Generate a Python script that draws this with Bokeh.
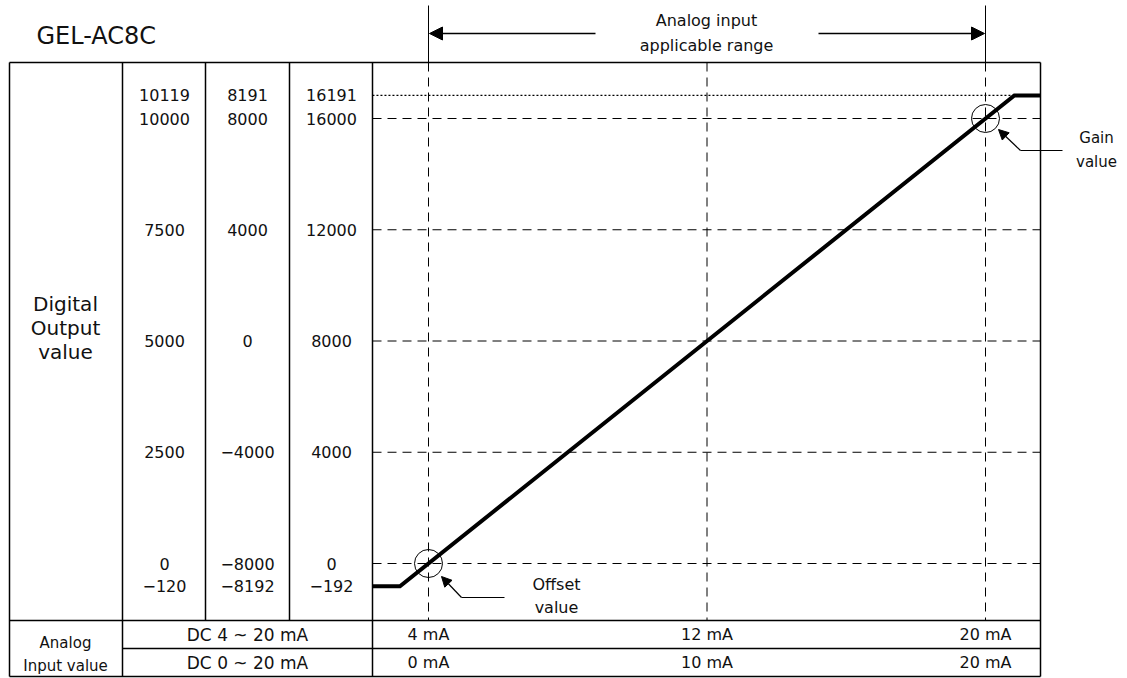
from bokeh.plotting import figure
from bokeh.models import Range1d, Arrow, NormalHead
from bokeh.core.properties import value
from bokeh.embed import file_html
from bokeh.resources import INLINE

# ---------------- data ----------------
title_text = "GEL-AC8C"
range_caption = ["Analog input", "applicable range"]
y_caption = ["Digital", "Output", "value"]
x_caption = ["Analog", "Input value"]
offset_caption = ["Offset", "value"]
gain_caption = ["Gain", "value"]

ma_ticks = [4, 12, 20]                       # mA positions on the 4~20 mA scale
ma_4_20_labels = ["4 mA", "12 mA", "20 mA"]
ma_0_20_labels = ["0 mA", "10 mA", "20 mA"]
range_4_20 = "DC 4 ~ 20 mA"
range_0_20 = "DC 0 ~ 20 mA"

grid_values = [0, 4000, 8000, 12000, 16000]  # digital output (third column scale)
col1_labels = ["0", "2500", "5000", "7500", "10000"]
col2_labels = ["\u22128000", "\u22124000", "0", "4000", "8000"]
col3_labels = ["0", "4000", "8000", "12000", "16000"]
clamp_hi_labels = ["10119", "8191", "16191"]
clamp_lo_labels = ["\u2212120", "\u22128192", "\u2212192"]

# characteristic curve (mA, digital value); clamp levels drawn schematically
curve_ma = [2.39, 3.18, 20.83, 21.58]
curve_val = [-820, -820, 16830, 16830]
clamp_hi_level = 16830
clamp_lo_level = -820
offset_pt = ([4], [0])
gain_pt = ([20], [16000])

# ---------------- layout (page pixels) ----------------
W, H = 1127, 678
ORG = 0
X4, X20 = 428, 985
Y0, Y16K = 563, 118
x_per = (X20 - X4) / 16.0
y_per = (Y0 - Y16K) / 16000.0

p = figure(width=W, height=H, output_backend="svg", toolbar_location=None,
           x_axis_type=None, y_axis_type=None, min_border=0,
           x_range=Range1d(4 + (ORG - X4) / x_per, 4 + (ORG + W - X4) / x_per),
           y_range=Range1d((Y0 - (ORG + H)) / y_per, (Y0 - ORG) / y_per),
           outline_line_color=None, background_fill_color="white",
           border_fill_color="white")
p.extra_x_ranges = {"px": Range1d(ORG, ORG + W)}
p.extra_y_ranges = {"px": Range1d(ORG + H, ORG)}
p.xgrid.visible = False
p.ygrid.visible = False

FONT = value("DejaVu Sans")
BLACK = "#000000"
TXT = "#111111"

LEFT, C1, C2, C3, GL, GR = 9, 122, 205, 289, 372, 1040
TOP, R1, R2, BOT = 62, 620, 648, 676

# table frame
h_x0 = [LEFT, LEFT, C1, LEFT]
h_x1 = [GR, GR, GR, GR]
h_y = [TOP, R1, R2, BOT]
p.segment(x0=h_x0, x1=h_x1, y0=h_y, y1=h_y, line_color=BLACK, line_width=1.5,
          x_range_name="px", y_range_name="px")
v_x = [LEFT, C1, C2, C3, GL, GR]
v_y0 = [TOP] * 6
v_y1 = [BOT, BOT, R1, R1, BOT, BOT]
p.segment(x0=v_x, x1=v_x, y0=v_y0, y1=v_y1, line_color=BLACK, line_width=1.5,
          x_range_name="px", y_range_name="px")

# dashed grid
p.segment(x0=[GL] * len(grid_values), x1=[GR] * len(grid_values),
          y0=grid_values, y1=grid_values, line_color=BLACK, line_width=1,
          line_dash="9 6", x_range_name="px")
p.segment(x0=ma_ticks, x1=ma_ticks, y0=[TOP] * 3, y1=[R1] * 3,
          line_color=BLACK, line_width=1, line_dash="9 6", y_range_name="px")
# solid extension above the table for applicable range
p.segment(x0=[ma_ticks[0], ma_ticks[-1]], x1=[ma_ticks[0], ma_ticks[-1]],
          y0=[5, 5], y1=[TOP, TOP], line_color=BLACK, line_width=1,
          y_range_name="px")

# dotted clamp line
p.line(x=[curve_ma[0], curve_ma[2]], y=[clamp_hi_level, clamp_hi_level],
       line_color=BLACK, line_width=1.2, line_dash="2 2")

# characteristic
p.line(x=curve_ma, y=curve_val, line_color=BLACK, line_width=4, line_join="miter")

# offset / gain circles
p.scatter(x=offset_pt[0] + gain_pt[0], y=offset_pt[1] + gain_pt[1], size=28,
          marker="circle", fill_color=None, line_color=BLACK, line_width=1)

# range arrows
for xs, xe in [(595, X4 + 1), (818, X20 - 1)]:
    p.add_layout(Arrow(x_start=xs, y_start=33, x_end=xe, y_end=33,
                       x_range_name="px", y_range_name="px", line_width=1.5,
                       line_color=BLACK,
                       end=NormalHead(size=13, fill_color=BLACK, line_color=BLACK)))

# pointer arrows
p.segment(x0=[504, 1062], x1=[461, 1020], y0=[597, 150], y1=[597, 150],
          line_color=BLACK, line_width=1.2, x_range_name="px", y_range_name="px")
for xs, ys, xe, ye in [(461, 597, 441, 576), (1020, 150, 998, 129)]:
    p.add_layout(Arrow(x_start=xs, y_start=ys, x_end=xe, y_end=ye,
                       x_range_name="px", y_range_name="px", line_width=1.2,
                       line_color=BLACK,
                       end=NormalHead(size=10, fill_color=BLACK, line_color=BLACK)))

def txt(x, y, t, size, align="center", xr="px", yr="px"):
    kw = {}
    if xr != "default":
        kw["x_range_name"] = xr
    if yr != "default":
        kw["y_range_name"] = yr
    p.text(x=x, y=y, text=t, text_font=FONT, text_font_size=size,
           text_align=align, text_baseline="middle", text_color=TXT, **kw)

# title
txt([36], [35], [title_text], "24px", align="left")
# range caption
txt([706, 706], [20, 45], range_caption, "16px")
# y caption
txt([65, 65, 65], [303, 327, 351], y_caption, "20px")
# column labels (positioned by value)
for cx, labs, hi, lo in [(164, col1_labels, clamp_hi_labels[0], clamp_lo_labels[0]),
                         (247, col2_labels, clamp_hi_labels[1], clamp_lo_labels[1]),
                         (331, col3_labels, clamp_hi_labels[2], clamp_lo_labels[2])]:
    txt([cx] * 7, grid_values + [clamp_hi_level, clamp_lo_level], labs + [hi, lo],
        "16px", yr="default")
# offset / gain captions
txt([556, 556], [584, 607], offset_caption, "16px")
txt([1096, 1096], [137, 161], gain_caption, "15px")
# bottom rows
txt([65, 65], [642, 665], x_caption, "15px")
txt([247, 247], [634, 662], [range_4_20, range_0_20], "17px")
txt(ma_ticks, [634] * 3, ma_4_20_labels, "16px", xr="default")
txt(ma_ticks, [662] * 3, ma_0_20_labels, "16px", xr="default")

open("out.html", "w").write(file_html(p, INLINE))
